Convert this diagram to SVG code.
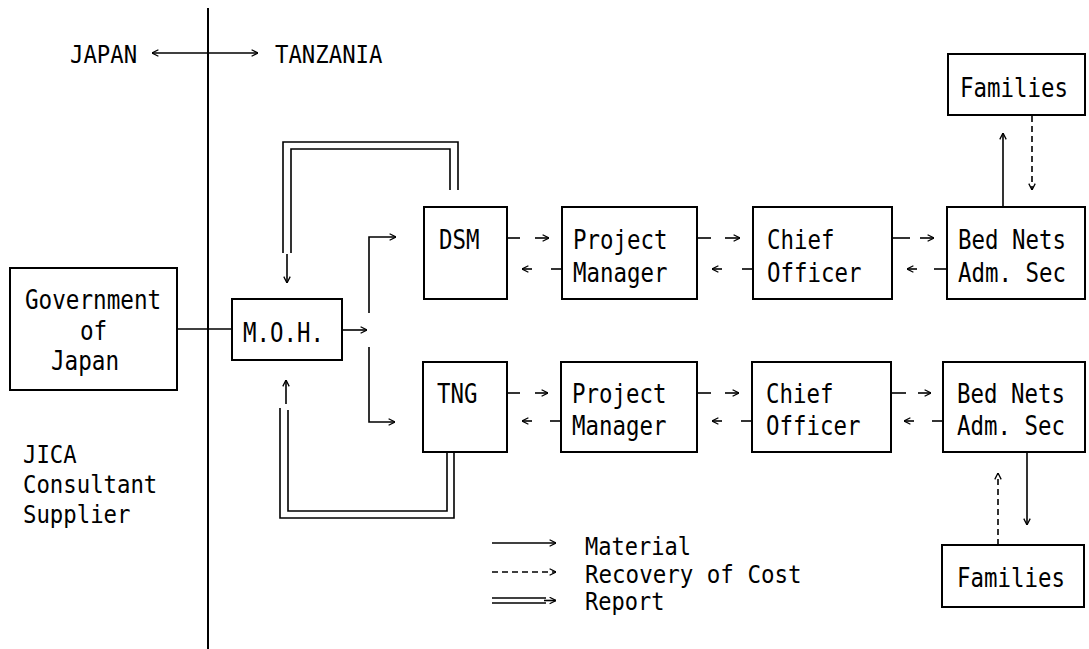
<svg xmlns="http://www.w3.org/2000/svg" width="1089" height="649" viewBox="0 0 1089 649">
<style>
.box{fill:#fff;stroke:#000;stroke-width:2}
.t{font-family:"DejaVu Sans Mono","Liberation Mono",monospace;font-size:27px;fill:#000}
.g{font-size:26px}
.s{font-size:24px}
.m{font-size:25px}
.ln{stroke:#000;stroke-width:1.6;fill:none}
.ar{marker-end:url(#ah)}
.d{stroke-dasharray:6 4}
</style>
<defs>
<marker id="ah" viewBox="0 0 10 10" refX="10" refY="5" markerUnits="userSpaceOnUse" markerWidth="8" markerHeight="8" orient="auto">
<path d="M2,1 L10,5 L2,9" fill="none" stroke="#000" stroke-width="1.6"/>
</marker>
</defs>
<rect width="1089" height="649" fill="#fff"/>

<g id="header">
<line x1="208" y1="8" x2="208" y2="649" stroke="#000" stroke-width="2"/>
<text class="t s" transform="translate(70,63) scale(0.93,1)">JAPAN</text>
<text class="t s" transform="translate(275,63) scale(0.93,1)">TANZANIA</text>
<line class="ln" x1="205" y1="53" x2="152" y2="53" marker-end="url(#ah)"/>
<line class="ln" x1="205" y1="53" x2="258" y2="53" marker-end="url(#ah)"/>
</g>

<g id="gov">
<rect class="box" x="10" y="268" width="167" height="122"/>
<text class="t g" transform="translate(25,309) scale(0.87,1)">Government</text>
<text class="t g" transform="translate(80,340) scale(0.87,1)">of</text>
<text class="t g" transform="translate(51,370) scale(0.87,1)">Japan</text>
</g>

<g id="jica">
<text class="t s" transform="translate(23,463) scale(0.93,1)">JICA</text>
<text class="t s" transform="translate(23,493) scale(0.93,1)">Consultant</text>
<text class="t s" transform="translate(23,523) scale(0.93,1)">Supplier</text>
</g>

<g id="moh">
<rect class="box" x="232" y="299" width="110" height="61"/>
<text class="t" transform="translate(243,342) scale(0.83,1)">M.O.H.</text>
</g>

<g id="dsm">
<rect class="box" x="424" y="207" width="83" height="92"/>
<text class="t" transform="translate(439,249) scale(0.83,1)">DSM</text>
</g>
<g id="tng">
<rect class="box" x="423" y="362" width="84" height="90"/>
<text class="t" transform="translate(437,403) scale(0.83,1)">TNG</text>
</g>

<g id="pm1">
<rect class="box" x="562" y="207" width="135" height="92"/>
<text class="t" transform="translate(573,249) scale(0.83,1)">Project</text>
<text class="t" transform="translate(573,282) scale(0.83,1)">Manager</text>
</g>
<g id="pm2">
<rect class="box" x="561" y="362" width="136" height="90"/>
<text class="t" transform="translate(572,403) scale(0.83,1)">Project</text>
<text class="t" transform="translate(572,435) scale(0.83,1)">Manager</text>
</g>

<g id="chief1">
<rect class="box" x="753" y="207" width="139" height="92"/>
<text class="t" transform="translate(767,249) scale(0.83,1)">Chief</text>
<text class="t" transform="translate(767,282) scale(0.83,1)">Officer</text>
</g>
<g id="chief2">
<rect class="box" x="752" y="362" width="139" height="90"/>
<text class="t" transform="translate(766,403) scale(0.83,1)">Chief</text>
<text class="t" transform="translate(766,435) scale(0.83,1)">Officer</text>
</g>

<g id="bed1">
<rect class="box" x="947" y="207" width="138" height="92"/>
<text class="t" transform="translate(958,249) scale(0.83,1)">Bed Nets</text>
<text class="t" transform="translate(958,282) scale(0.83,1)">Adm. Sec</text>
</g>
<g id="bed2">
<rect class="box" x="943" y="362" width="142" height="90"/>
<text class="t" transform="translate(957,403) scale(0.83,1)">Bed Nets</text>
<text class="t" transform="translate(957,435) scale(0.83,1)">Adm. Sec</text>
</g>

<g id="fam1">
<rect class="box" x="948" y="54" width="137" height="61"/>
<text class="t" transform="translate(960,97) scale(0.83,1)">Families</text>
</g>
<g id="fam2">
<rect class="box" x="942" y="545" width="142" height="62"/>
<text class="t" transform="translate(957,587) scale(0.83,1)">Families</text>
</g>

<g id="legend">
<line class="ln ar" x1="492" y1="543" x2="556" y2="543"/>
<line class="ln ar d" x1="492" y1="572" x2="556" y2="572"/>
<line class="ln" x1="492" y1="598" x2="546" y2="598"/>
<line class="ln" x1="492" y1="603" x2="546" y2="603"/>
<line class="ln ar" x1="544" y1="600.5" x2="556" y2="600.5"/>
<text class="t m" transform="translate(585,555) scale(0.88,1)">Material</text>
<text class="t m" transform="translate(585,583) scale(0.9,1)">Recovery of Cost</text>
<text class="t m" transform="translate(585,610) scale(0.88,1)">Report</text>
</g>

<g id="connectors">
<line class="ln" x1="177" y1="329" x2="232" y2="329"/>
<line class="ln ar" x1="342" y1="330" x2="367" y2="330"/>
<polyline class="ln ar" points="369,313 369,237 396,237"/>
<polyline class="ln ar" points="369,347 369,422 395,422"/>
<path class="ln" d="M283,253 V142 H458 V190"/>
<path class="ln" d="M291,253 V149 H450 V190"/>
<line class="ln ar" x1="287" y1="254" x2="287" y2="283"/>
<path class="ln" d="M280,408 V518 H454 V452"/>
<path class="ln" d="M288,410 V511 H447 V452"/>
<line class="ln ar" x1="286" y1="404" x2="286" y2="380"/>
<line class="ln" x1="507" y1="238" x2="520" y2="238"/>
<line class="ln ar" x1="535" y1="238" x2="549" y2="238"/>
<line class="ln" x1="697" y1="238" x2="711" y2="238"/>
<line class="ln ar" x1="725" y1="238" x2="740" y2="238"/>
<line class="ln" x1="892" y1="238" x2="910" y2="238"/>
<line class="ln ar" x1="920" y1="238" x2="934" y2="238"/>
<line class="ln ar" x1="532" y1="269" x2="522" y2="269"/>
<line class="ln" x1="551" y1="269" x2="562" y2="269"/>
<line class="ln ar" x1="722" y1="269" x2="712" y2="269"/>
<line class="ln" x1="742" y1="269" x2="753" y2="269"/>
<line class="ln ar" x1="917" y1="269" x2="907" y2="269"/>
<line class="ln" x1="934" y1="269" x2="947" y2="269"/>
<line class="ln" x1="507" y1="393" x2="520" y2="393"/>
<line class="ln ar" x1="535" y1="393" x2="548" y2="393"/>
<line class="ln" x1="697" y1="393" x2="711" y2="393"/>
<line class="ln ar" x1="725" y1="393" x2="739" y2="393"/>
<line class="ln" x1="891" y1="393" x2="906" y2="393"/>
<line class="ln ar" x1="918" y1="393" x2="931" y2="393"/>
<line class="ln ar" x1="532" y1="421" x2="522" y2="421"/>
<line class="ln" x1="550" y1="421" x2="561" y2="421"/>
<line class="ln ar" x1="722" y1="421" x2="712" y2="421"/>
<line class="ln" x1="741" y1="421" x2="752" y2="421"/>
<line class="ln ar" x1="914" y1="421" x2="904" y2="421"/>
<line class="ln" x1="932" y1="421" x2="943" y2="421"/>
<line class="ln ar" x1="1003" y1="207" x2="1003" y2="133"/>
<line class="ln ar d" x1="1032" y1="116" x2="1032" y2="190"/>
<line class="ln ar" x1="1027" y1="452" x2="1027" y2="525"/>
<line class="ln ar d" x1="998" y1="545" x2="998" y2="473"/>
</g>
</svg>
